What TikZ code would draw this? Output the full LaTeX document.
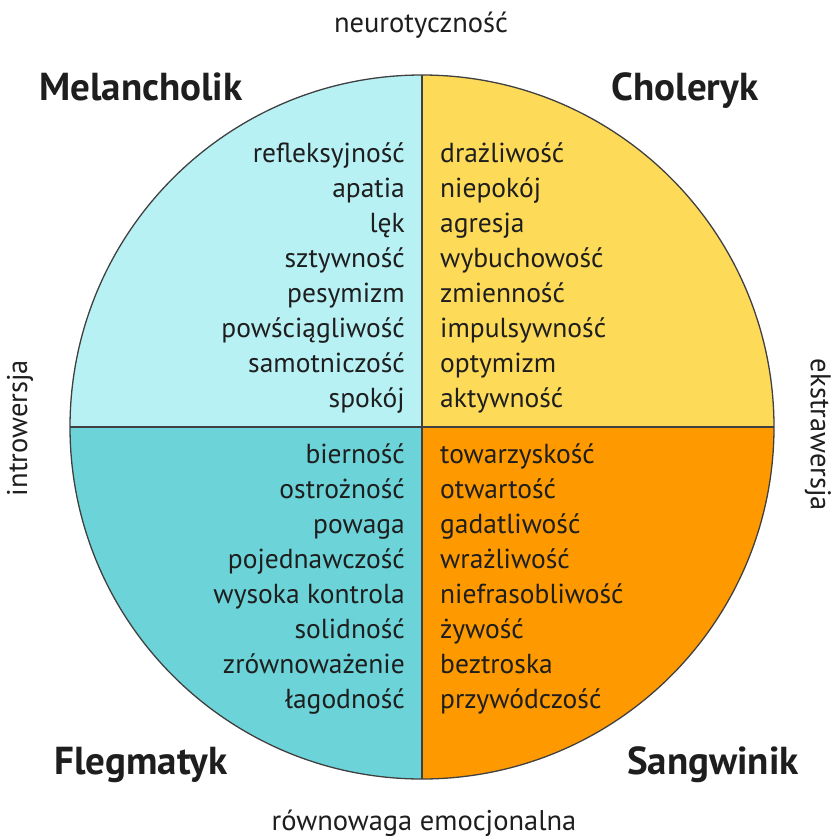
\documentclass[tikz,border=0pt]{standalone}
\usepackage{fontspec}
\setmainfont{PT Sans}
\definecolor{melc}{HTML}{B8F1F4}
\definecolor{chol}{HTML}{FDDA58}
\definecolor{fleg}{HTML}{6CD4D9}
\definecolor{sang}{HTML}{FE9A00}
\definecolor{ink}{HTML}{1E1E1E}
\begin{document}
\begin{tikzpicture}[x=1pt,y=-1pt,
  item/.style={font=\fontsize{27.5}{33}\selectfont, text=ink, inner sep=0pt},
  head/.style={font=\fontsize{39}{42}\selectfont\bfseries, text=ink, inner sep=0pt},
  axis/.style={font=\fontsize{28.5}{32}\selectfont, text=ink, inner sep=0pt},
  edge/.style={draw=ink!85, line width=1.3pt}]
\useasboundingbox (0,0) rectangle (832,838);
\coordinate (c) at (422,427);
\fill[melc] (c) -- (70,427) arc[start angle=180,end angle=90,x radius=352,y radius=-352] -- cycle;
\fill[chol] (c) -- (422,75) arc[start angle=90,end angle=0,x radius=352,y radius=-352] -- cycle;
\fill[sang] (c) -- (774,427) arc[start angle=0,end angle=-90,x radius=352,y radius=-352] -- cycle;
\fill[fleg] (c) -- (422,779) arc[start angle=-90,end angle=-180,x radius=352,y radius=-352] -- cycle;
\coordinate (t) at (422,75);
\coordinate (b) at (422,779);
\coordinate (l) at (70,427);
\coordinate (r) at (774,427);
\draw[edge] (t) -- (b);
\draw[edge] (l) -- (r);
\draw[edge] (c) circle[radius=352];
\foreach \w [count=\i] in {refleksyjność,apatia,lęk,sztywność,pesymizm,powściągliwość,samotniczość,spokój}
  \node[item, anchor=base east] (m\i) at (405,{162+35*(\i-1)}) {\w};
\foreach \w [count=\i] in {drażliwość,niepokój,agresja,wybuchowość,zmienność,impulsywność,optymizm,aktywność}
  \node[item, anchor=base west] (c\i) at (440,{162+35*(\i-1)}) {\w};
\foreach \w [count=\i] in {bierność,ostrożność,powaga,pojednawczość,wysoka kontrola,solidność,zrównoważenie,łagodność}
  \node[item, anchor=base east] (f\i) at (405,{463+35*(\i-1)}) {\w};
\foreach \w [count=\i] in {towarzyskość,otwartość,gadatliwość,wrażliwość,niefrasobliwość,żywość,beztroska,przywódczość}
  \node[item, anchor=base west] (s\i) at (440,{463+35*(\i-1)}) {\w};
\node[head, anchor=base] (mh) at (141,100) {Melancholik};
\node[head, anchor=base] (ch) at (685,100) {Choleryk};
\node[head, anchor=base] (fh) at (141,774) {Flegmatyk};
\node[head, anchor=base] (sh) at (713,774) {Sangwinik};
\node[axis, anchor=base] (n) at (421,32) {neurotyczność};
\node[axis, anchor=base] (re) at (424,830) {równowaga emocjonalna};
\node[axis, rotate=90] (in) at (20,428) {introwersja};
\node[axis, rotate=-90] (ek) at (818,435) {ekstrawersja};
\end{tikzpicture}
\end{document}
